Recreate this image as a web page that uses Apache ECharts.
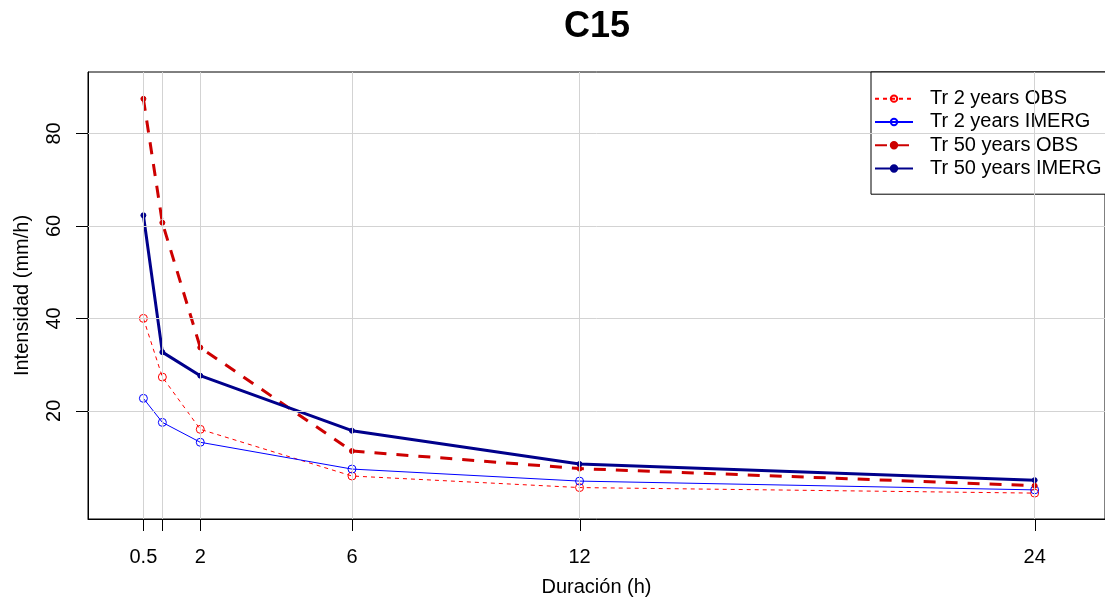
<!DOCTYPE html>
<html>
<head>
<meta charset="utf-8">
<script src="https://cdn.jsdelivr.net/npm/echarts@6/dist/echarts.min.js"></script>
<style>html,body{margin:0;padding:0;background:#fff;}#c{width:1105px;height:602px;}</style>
</head>
<body>
<div id="c"></div>
<script>
const durations = [0.5, 1, 2, 6, 12, 24];
const tr2Obs = [40.0, 27.3, 16.0, 5.9, 3.4, 2.2];
const tr2Imerg = [22.7, 17.5, 13.2, 7.4, 4.8, 2.9];
const tr50Obs = [87.5, 60.7, 33.7, 11.3, 7.5, 3.8];
const tr50Imerg = [62.3, 32.7, 27.6, 15.7, 8.5, 5.0];
const xTickValues = [0.5, 1, 2, 6, 12, 24];
const xLabelValues = [0.5, 2, 6, 12, 24];
const yTickValues = [20, 40, 60, 80];
const seriesNames = ['Tr 2 years OBS', 'Tr 2 years IMERG', 'Tr 50 years OBS', 'Tr 50 years IMERG'];

const FONT = 'Liberation Sans, Arial, sans-serif';
const pairs = v => durations.map((d, i) => [d, v[i]]);
const X_MIN = -0.9605, X_MAX = 25.855, Y_MIN = -3.4, Y_MAX = 93.3;

function thin(name, data, color, dashed) {
  return {
    name, type: 'line', data: pairs(data),
    symbol: 'circle', symbolSize: 8,
    itemStyle: { color: 'rgba(0,0,0,0)', borderColor: color, borderWidth: 1 },
    lineStyle: { color, width: 1, type: dashed ? [4, 4] : 'solid' },
    z: 3
  };
}
function thick(name, data, color, dashed) {
  return {
    name, type: 'line', data: pairs(data),
    symbol: 'circle', symbolSize: 5,
    itemStyle: { color: color, borderColor: color, borderWidth: 1 },
    lineStyle: { color, width: 3, type: dashed ? [12, 10] : 'solid' },
    z: 4
  };
}

const chart = echarts.init(document.getElementById('c'), null, { renderer: 'canvas' });
chart.setOption({
  animation: false,
  backgroundColor: '#fff',
  textStyle: { fontFamily: FONT },
  title: {
    text: 'C15', left: 559, top: 4,
    textStyle: { fontFamily: FONT, fontSize: 36, fontWeight: 'bold', color: '#000' }
  },
  grid: {
    left: 88, top: 72, right: -2, bottom: 82,
    show: true, borderColor: '#000', borderWidth: 1, backgroundColor: 'transparent'
  },
  xAxis: {
    type: 'value', min: X_MIN, max: X_MAX,
    name: 'Duración (h)', nameLocation: 'middle', nameGap: 58,
    nameTextStyle: { fontFamily: FONT, fontSize: 20, color: '#000' },
    axisLine: { show: true, onZero: false, lineStyle: { color: '#000', width: 1 } },
    axisTick: { show: false },
    axisLabel: { customValues: xLabelValues, margin: 28, fontFamily: FONT, fontSize: 20, color: '#000' },
    splitLine: { show: false }
  },
  yAxis: {
    type: 'value', min: Y_MIN, max: Y_MAX,
    name: 'Intensidad (mm/h)', nameLocation: 'middle', nameGap: 56, nameRotate: 90,
    nameTextStyle: { fontFamily: FONT, fontSize: 20, color: '#000' },
    axisLine: { show: true, onZero: false, lineStyle: { color: '#000', width: 1 } },
    axisTick: { show: false },
    axisLabel: { customValues: yTickValues, rotate: 90, margin: 24, fontFamily: FONT, fontSize: 20, color: '#000' },
    splitLine: { show: false }
  },
  legend: {
    orient: 'vertical', left: 871, top: 72,
    data: seriesNames,
    backgroundColor: '#fff', borderColor: '#000', borderWidth: 1,
    padding: [15, 20, 14, 3],
    itemWidth: 38, itemHeight: 8, itemGap: 0,
    textStyle: { fontFamily: FONT, fontSize: 20, color: '#000', lineHeight: 23.3, padding: [0, 0, 0, 12] }
  },
  series: [
    {
      name: 'grid', type: 'line', data: [], silent: true, z: 1,
      markLine: {
        silent: true, symbol: 'none', animation: false,
        label: { show: false },
        lineStyle: { color: '#d3d3d3', width: 1, type: 'solid' },
        data: xTickValues.map(v => ({ xAxis: v })).concat(yTickValues.map(v => ({ yAxis: v })))
      }
    },
    thin(seriesNames[0], tr2Obs, '#ff0000', true),
    thin(seriesNames[1], tr2Imerg, '#0000ff', false),
    thick(seriesNames[2], tr50Obs, '#cd0000', true),
    thick(seriesNames[3], tr50Imerg, '#00008b', false)
  ]
});

// Axis ticks placed through the chart's own scales
const TICK = 12;
const bottomY = chart.convertToPixel({ yAxisIndex: 0 }, Y_MIN);
const leftX = chart.convertToPixel({ xAxisIndex: 0 }, X_MIN);
const tickStyle = { stroke: '#000', lineWidth: 1 };
const ticks = [];
xTickValues.forEach(v => {
  const x = Math.round(chart.convertToPixel({ xAxisIndex: 0 }, v)) + 0.5;
  ticks.push({ type: 'line', silent: true, z: 10, shape: { x1: x, y1: bottomY, x2: x, y2: bottomY + TICK }, style: tickStyle });
});
yTickValues.forEach(v => {
  const y = Math.round(chart.convertToPixel({ yAxisIndex: 0 }, v)) + 0.5;
  ticks.push({ type: 'line', silent: true, z: 10, shape: { x1: leftX - TICK, y1: y, x2: leftX, y2: y }, style: tickStyle });
});
chart.setOption({ graphic: ticks });
</script>
</body>
</html>
